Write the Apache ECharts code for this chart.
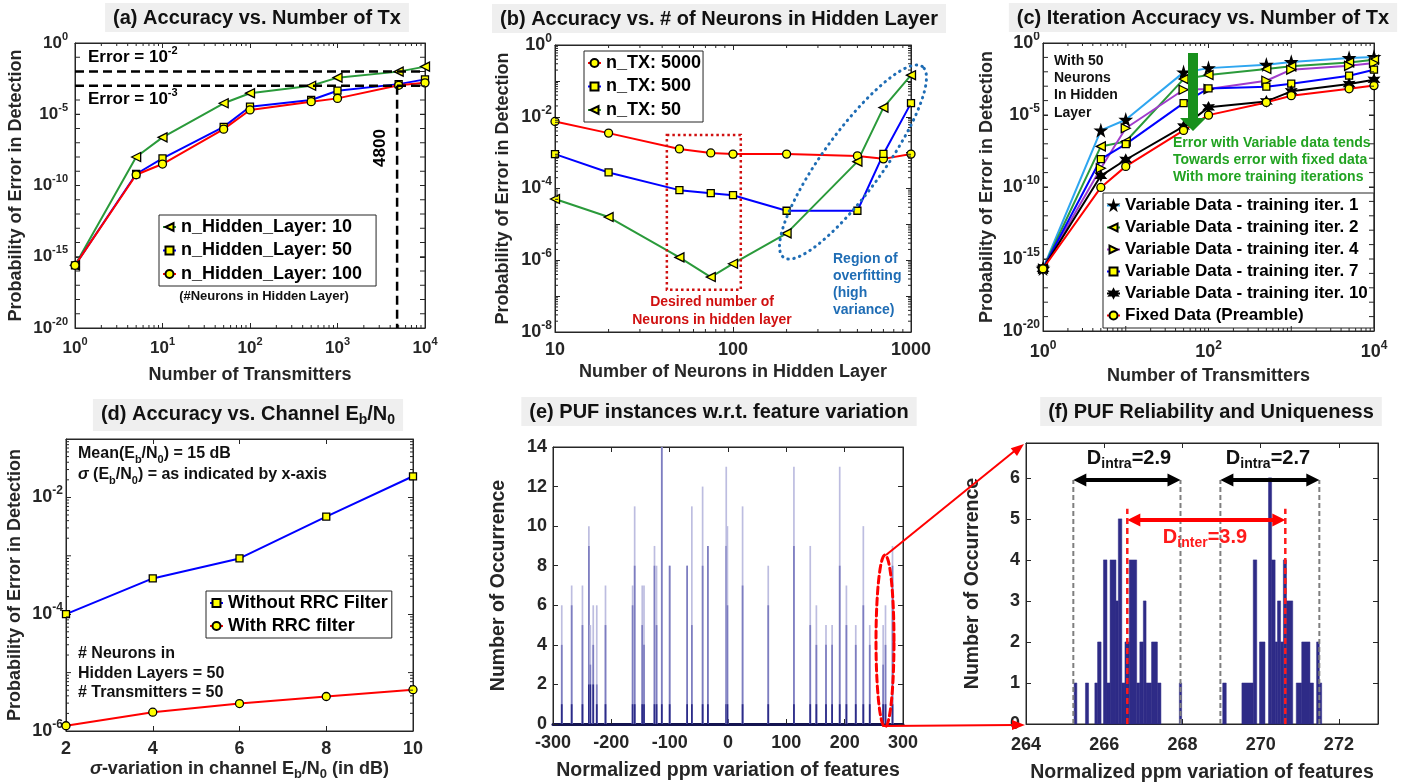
<!DOCTYPE html>
<html>
<head>
<meta charset="utf-8">
<script src="https://cdn.jsdelivr.net/npm/echarts@6.0.0/dist/echarts.min.js"></script>
<style>
html,body{margin:0;padding:0;background:#ffffff;}
#chart{width:1401px;height:783px;}
</style>
</head>
<body>
<div id="chart"></div>
<script>
// ---------------- data ----------------
// (a) accuracy vs number of transmitters
const txCounts = [1, 5, 10, 50, 100, 500, 1000, 5000, 10000];
const errHidden10  = [2.5e-16, 1.0e-8, 2.4e-7, 5.9e-5, 3.0e-4, 1.0e-3, 3.7e-3, 9.8e-3, 2.2e-2];
const errHidden50  = [2.5e-16, 6.4e-10, 8.0e-9, 1.3e-6, 3.4e-5, 1.0e-4, 4.5e-4, 1.3e-3, 2.8e-3];
const errHidden100 = [2.5e-16, 5.7e-10, 3.2e-9, 9.0e-7, 2.0e-5, 7.6e-5, 1.3e-4, 1.07e-3, 1.6e-3];
const legendA = ['n_Hidden_Layer: 10', 'n_Hidden_Layer: 50', 'n_Hidden_Layer: 100'];

// (b) accuracy vs neurons in hidden layer
const neuronCounts = [10, 20, 50, 75, 100, 200, 500, 700, 1000];
const errTx5000 = [7.4e-3, 3.5e-3, 1.27e-3, 9.8e-4, 9.1e-4, 9.1e-4, 8.1e-4, 6.7e-4, 9.1e-4];
const errTx500  = [9.1e-4, 2.8e-4, 9.0e-5, 7.4e-5, 6.5e-5, 2.4e-5, 2.4e-5, 9.2e-4, 2.4e-2];
const errTx50   = [5.1e-5, 1.6e-5, 1.2e-6, 3.4e-7, 8.0e-7, 5.6e-6, 5.6e-4, 1.8e-2, 1.44e-1];
const legendB = ['n_TX: 5000', 'n_TX: 500', 'n_TX: 50'];

// (c) iteration accuracy vs number of transmitters (x = txCounts)
const errIter1  = [2.1e-16, 8.5e-7, 4.7e-6, 9.1e-3, 1.8e-2, 3.1e-2, 4.8e-2, 9.1e-2, 1.07e-1];
const errIter2  = [2.1e-16, 6.6e-8, 1.45e-7, 3.1e-3, 6.0e-3, 1.55e-2, 2.4e-2, 4.5e-2, 6.9e-2];
const errIter4  = [2.1e-16, 2.0e-9, 1.2e-6, 5.7e-4, 6.3e-4, 2.4e-3, 1.4e-2, 2.6e-2, 4.1e-2];
const errIter7  = [2.1e-16, 8.7e-9, 9.5e-8, 6.7e-5, 7.0e-4, 9.2e-4, 1.5e-3, 5.4e-3, 1.4e-2];
const errIter10 = [2.1e-16, 6.0e-10, 7.8e-9, 1.6e-6, 3.4e-5, 8.8e-5, 4.4e-4, 1.4e-3, 2.8e-3];
const errFixed  = [2.1e-16, 9.3e-11, 2.7e-9, 8.5e-7, 9.8e-6, 7.5e-5, 2.2e-4, 6.6e-4, 1.1e-3];
const legendC = ['Variable Data - training iter. 1', 'Variable Data - training iter. 2',
  'Variable Data - training iter. 4', 'Variable Data - training iter. 7',
  'Variable Data - training iter. 10', 'Fixed Data (Preamble)'];

// (d) accuracy vs channel Eb/N0 variation
const sigmaDb  = [2, 4, 6, 8, 10];
const errNoRrc = [1.0e-4, 4.1e-4, 9.0e-4, 4.7e-3, 2.3e-2];
const errRrc   = [1.23e-6, 2.1e-6, 2.95e-6, 3.9e-6, 5.1e-6];
const legendD = ['Without RRC Filter', 'With RRC filter'];

// (e) PUF instances: spike position (ppm), total count, mid-shade count, dark core count
const spikePpm   = [-285, -268, -249.5, -238.5, -236, -231, -225, -210, -163.5, -160, -147, -144, -126, -122.5, -113.5, -100, -70, -62, -43.5, -34.5, -3, -1, 25, 69, 113, 141, 151.5, 168, 178.5, 191.5, 203, 219, 232, 243, 266, 270, 282];
const spikeTotal = [6, 7, 7, 10, 5, 6, 6, 7, 7, 11, 7, 7, 9, 8, 14, 8, 8, 11, 12, 9, 13, 10, 11, 8, 13, 9, 6, 5, 5, 13, 7, 5, 10, 5, 5, 6, 9];
const spikeMid   = [4, 6, 5, 9, 3, 4, 2, 5, 6, 8, 5, 4, 8, 5, 14, 8, 8, 5, 8, 9, 9, 6, 7, 6, 9, 5, 4, 4, 4, 8, 5, 4, 6, 4, 3, 4, 8];
const spikeCore  = [1, 1, 1, 2, 2, 2, 1, 1, 1, 1, 1, 1, 1, 1, 1, 1, 1, 1, 1, 1, 1, 1, 1, 1, 1, 1, 1, 1, 1, 1, 1, 1, 1, 1, 1, 1, 1];

// (f) PUF reliability histogram bins
const pufBinStart = [265.23, 265.52, 265.76, 265.83, 265.98, 266.07, 266.15, 266.30, 266.36, 266.45, 266.53, 266.64, 266.83, 266.91, 267.00, 267.07, 267.21, 267.36, 267.92,
                     269.03, 269.52, 269.81, 269.97, 270.20, 270.28, 270.37, 270.43, 270.51, 270.58, 270.66, 270.91, 271.05, 271.26, 271.43, 271.50];
const pufBinEnd   = [265.30, 265.60, 265.83, 265.92, 266.07, 266.15, 266.30, 266.36, 266.45, 266.53, 266.64, 266.83, 266.91, 267.00, 267.07, 267.21, 267.36, 267.45, 267.98,
                     269.12, 269.81, 269.90, 270.11, 270.28, 270.37, 270.43, 270.51, 270.58, 270.66, 270.82, 271.05, 271.26, 271.35, 271.50, 271.56];
const pufBinCount = [1, 1, 1, 2, 4, 1, 4, 3, 5, 1, 2, 4, 1, 2, 3, 1, 2, 1, 1,
                     1, 1, 4, 2, 6, 4, 2, 3, 2, 4, 3, 1, 2, 1, 2, 1];
const intraLimits = [265.21, 267.95, 268.97, 271.5];
const clusterCenters = [266.59, 270.63];

// ---------------- layout / style ----------------
const FONT = '"Liberation Sans", Arial, Helvetica, sans-serif';
const INK = '#262626';
const GRID = [
  {l: 75,   t: 43,  r: 425,  b: 328},
  {l: 555,  t: 45,  r: 911,  b: 332},
  {l: 1043, t: 43,  r: 1374, b: 331},
  {l: 66,   t: 439, r: 413,  b: 731},
  {l: 553,  t: 447, r: 903,  b: 724},
  {l: 1026, t: 443, r: 1378, b: 724}
];
const YELLOW = '#ffff00';
const GREEN = '#2a9a3a', RED = '#ff0000', BLUE = '#0000ff', LBLUE = '#2ea6f0', PURPLE = '#a03ccc';
const STAR5 = 'path://M50,0 L61,35 L98,35 L68,57 L79,91 L50,70 L21,91 L32,57 L2,35 L39,35 Z';
const STAR6 = 'path://M50,0 L62,28 L93,25 L75,50 L93,75 L62,72 L50,100 L38,72 L7,75 L25,50 L7,25 L38,28 Z';

function supRich(base, sup) {
  return {
    b: {fontFamily: FONT, fontWeight: 'bold', fontSize: base, lineHeight: base + 7, color: INK, verticalAlign: 'middle'},
    s: {fontFamily: FONT, fontWeight: 'bold', fontSize: sup, lineHeight: sup, color: INK, verticalAlign: 'top'}
  };
}
function powFmt(show) {
  return function (v) {
    const e = Math.round(Math.log10(v));
    return show.indexOf(e) >= 0 ? '{b|10}{s|' + e + '}' : '';
  };
}
function subRich(base, sub, color) {
  return {
    t: {fontFamily: FONT, fontWeight: 'bold', fontSize: base, lineHeight: base + 6, color: color, verticalAlign: 'middle'},
    u: {fontFamily: FONT, fontWeight: 'bold', fontSize: sub, lineHeight: sub, color: color, verticalAlign: 'bottom'},
    i: {fontFamily: FONT, fontWeight: 'bold', fontStyle: 'italic', fontSize: base, lineHeight: base + 6, color: color, verticalAlign: 'middle'}
  };
}

const xAxes = [], yAxes = [];
function addAxes(list, dim, g, base, label, name) {
  const common = Object.assign({gridIndex: g, splitLine: {show: false}, minorTick: {show: false},
    axisLine: {show: true, onZero: false, lineStyle: {color: INK, width: 1}},
    axisTick: {show: true, inside: true, length: 5, lineStyle: {color: INK, width: 1}},
    axisPointer: {show: false}}, base);
  const primary = Object.assign({}, common, {
    position: dim === 'x' ? 'bottom' : 'left',
    axisLabel: Object.assign({show: true, color: INK, fontFamily: FONT, fontWeight: 'bold', fontSize: 18}, label)
  }, name || {});
  const secondary = Object.assign({}, common, {
    position: dim === 'x' ? 'top' : 'right',
    axisLabel: {show: false}
  });
  list.push(primary, secondary);
}
function axName(text, gap, size, rich) {
  return {name: text, nameLocation: 'middle', nameGap: gap,
    nameTextStyle: {fontFamily: FONT, fontWeight: 'bold', fontSize: size, color: INK, rich: rich}};
}

// (a)
addAxes(xAxes, 'x', 0, {type: 'log', logBase: 10, min: 1, max: 10000},
  {formatter: powFmt([0, 1, 2, 3, 4]), rich: supRich(17, 11), margin: 8}, axName('Number of Transmitters', 38, 18));
addAxes(yAxes, 'y', 0, {type: 'log', logBase: 100000, min: 1e-20, max: 1},
  {formatter: powFmt([0, -5, -10, -15, -20]), rich: supRich(17, 11), margin: 7}, axName('Probability of Error in Detection', 50, 18));
// (b)
addAxes(xAxes, 'x', 1, {type: 'log', logBase: 10, min: 10, max: 1000},
  {formatter: function (v) { return String(Math.round(v)); }, fontSize: 18, margin: 9}, axName('Number of Neurons in Hidden Layer', 31, 18));
addAxes(yAxes, 'y', 1, {type: 'log', logBase: 10, min: 1e-8, max: 1},
  {formatter: powFmt([0, -2, -4, -6, -8]), rich: supRich(18, 12), margin: 3}, axName('Probability of Error in Detection', 43, 18));
// (c)
addAxes(xAxes, 'x', 2, {type: 'log', logBase: 100, min: 1, max: 10000},
  {formatter: powFmt([0, 2, 4]), rich: supRich(18, 12), margin: 9}, axName('Number of Transmitters', 36, 18));
addAxes(yAxes, 'y', 2, {type: 'log', logBase: 100000, min: 1e-20, max: 1},
  {formatter: powFmt([0, -5, -10, -15, -20]), rich: supRich(18, 12), margin: 3}, axName('Probability of Error in Detection', 47, 18));
// (d)
addAxes(xAxes, 'x', 3, {type: 'value', min: 2, max: 10, interval: 2},
  {fontSize: 18, margin: 9},
  axName('{i|σ}{t|-variation in channel E}{u|b}{t|/N}{u|0}{t| (in dB)}', 26, 18, subRich(18, 13, INK)));
addAxes(yAxes, 'y', 3, {type: 'log', logBase: 100, min: 1e-6, max: 1e-1},
  {formatter: powFmt([-2, -4, -6]), rich: supRich(18, 12), margin: 3}, axName('Probability of Error in Detection', 42, 18));
// (e)
addAxes(xAxes, 'x', 4, {type: 'value', min: -300, max: 300, interval: 100},
  {fontSize: 18, margin: 10}, axName('Normalized ppm variation of features', 37, 19.5));
xAxes[8].axisLine = {show: true, onZero: false, lineStyle: {color: '#141450', width: 3}};
addAxes(yAxes, 'y', 4, {type: 'value', min: 0, max: 14, interval: 2},
  {fontSize: 18, margin: 6}, axName('Number of Occurrence', 44, 19.5));
// (f)
addAxes(xAxes, 'x', 5, {type: 'value', min: 264, max: 273, interval: 2},
  {fontSize: 18, margin: 12, showMaxLabel: false}, axName('Normalized ppm variation of features', 39, 19.5));
addAxes(yAxes, 'y', 5, {type: 'value', min: 0, max: 6.85, interval: 1},
  {fontSize: 18, margin: 6, showMaxLabel: false}, axName('Number of Occurrence', 43, 19.5));

const grids = GRID.map(function (g) {
  return {left: g.l, top: g.t, width: g.r - g.l, height: g.b - g.t, show: true,
    borderColor: INK, borderWidth: 1, backgroundColor: '#ffffff', containLabel: false, outerBoundsMode: 'none'};
});

function lineSeries(name, g, xs, ys, color, symbol, size, rot, fill) {
  return {
    type: 'line', name: name, xAxisIndex: 2 * g, yAxisIndex: 2 * g,
    data: xs.map(function (x, i) { return [x, ys[i]]; }),
    symbol: symbol, symbolSize: size, symbolRotate: rot || 0, showAllSymbol: true,
    lineStyle: {color: color, width: 2},
    itemStyle: {color: fill || YELLOW, borderColor: '#000000', borderWidth: 1.3},
    emphasis: {disabled: true}, silent: true, z: 3
  };
}

const series = [
  lineSeries(legendA[0], 0, txCounts, errHidden10, GREEN, 'triangle', 9, 90),
  lineSeries(legendA[1], 0, txCounts, errHidden50, BLUE, 'rect', 7),
  lineSeries(legendA[2], 0, txCounts, errHidden100, RED, 'circle', 8),

  lineSeries(legendB[0], 1, neuronCounts, errTx5000, RED, 'circle', 8),
  lineSeries(legendB[1], 1, neuronCounts, errTx500, BLUE, 'rect', 7),
  lineSeries(legendB[2], 1, neuronCounts, errTx50, GREEN, 'triangle', 9, 90),

  lineSeries(legendC[0], 2, txCounts, errIter1, LBLUE, STAR5, 11, 0, '#000000'),
  lineSeries(legendC[1], 2, txCounts, errIter2, GREEN, 'triangle', 9, 90),
  lineSeries(legendC[2], 2, txCounts, errIter4, PURPLE, 'triangle', 9, -90),
  lineSeries(legendC[3], 2, txCounts, errIter7, BLUE, 'rect', 7),
  lineSeries(legendC[4], 2, txCounts, errIter10, '#000000', STAR6, 10, 0, '#000000'),
  lineSeries(legendC[5], 2, txCounts, errFixed, RED, 'circle', 8),

  lineSeries(legendD[0], 3, sigmaDb, errNoRrc, BLUE, 'rect', 7),
  lineSeries(legendD[1], 3, sigmaDb, errRrc, RED, 'circle', 8),

  {
    type: 'custom', name: 'spikes', xAxisIndex: 8, yAxisIndex: 8, silent: true,
    data: spikePpm.map(function (x, i) { return [x, spikeTotal[i], spikeMid[i], spikeCore[i]]; }),
    encode: {x: 0, y: 1},
    renderItem: function (params, api) {
      const x = api.value(0);
      const base = api.coord([x, 0]);
      const w = 1.7;
      function mk(h, fill) {
        const top = api.coord([x, h]);
        return {type: 'rect', shape: {x: base[0] - w / 2, y: top[1], width: w, height: base[1] - top[1]}, style: {fill: fill}};
      }
      return {type: 'group', children: [mk(api.value(1), '#bdbde0'), mk(api.value(2), '#7d7dc0'), mk(api.value(3), '#2c2c88')]};
    }
  },
  {
    type: 'custom', name: 'pufBins', xAxisIndex: 10, yAxisIndex: 10, silent: true,
    data: pufBinStart.map(function (s, i) { return [s, pufBinEnd[i], pufBinCount[i]]; }),
    encode: {x: [0, 1], y: 2},
    renderItem: function (params, api) {
      const p0 = api.coord([api.value(0), api.value(2)]);
      const p1 = api.coord([api.value(1), 0]);
      return {type: 'rect', shape: {x: p0[0], y: p0[1], width: p1[0] - p0[0], height: p1[1] - p0[1]},
        style: {fill: '#2e2b87', stroke: '#2e2b87', lineWidth: 0.5}};
    }
  }
];

function legendBox(names, left, top, fontSize, gap, padding) {
  return {
    data: names, orient: 'vertical', left: left, top: top, itemGap: gap, itemWidth: 13, itemHeight: 10,
    padding: padding, selectedMode: false, borderColor: INK, borderWidth: 1, backgroundColor: '#ffffff',
    textStyle: {fontFamily: FONT, fontWeight: 'bold', fontSize: fontSize, color: '#000000'}
  };
}
const legends = [
  legendBox(legendA, 159, 215, 18, 5.5, [3, 14, 3, 3]),
  legendBox(legendB, 584, 51, 18, 5.5, [3, 2, 3, 3]),
  legendBox(legendC, 1103, 193, 17, 5, [4, 6, 4, 3]),
  legendBox(legendD, 206, 591, 18, 5, [3, 4, 3, 3])
];

function titleBox(text, cx, top, rich) {
  return {text: text, left: cx, top: top, textAlign: 'center', backgroundColor: '#efefef', padding: [5, 8, 4, 8],
    textStyle: {fontFamily: FONT, fontWeight: 'bold', fontSize: 20, color: '#111111', rich: rich}};
}
const titles = [
  titleBox('(a) Accuracy vs. Number of Tx', 249, 3),
  titleBox('(b) Accuracy vs. # of Neurons in Hidden Layer', 711, 4),
  titleBox('(c) Iteration Accuracy vs. Number of Tx', 1195, 3),
  titleBox('{t|(d) Accuracy vs. Channel E}{u|b}{t|/N}{u|0}', 240, 396, subRich(20, 14, '#111111')),
  titleBox('(e) PUF instances w.r.t. feature variation', 711, 397),
  titleBox('(f) PUF Reliability and Uniqueness', 1203, 397)
];

const chart = echarts.init(document.getElementById('chart'), null, {renderer: 'canvas', width: 1401, height: 783});
chart.setOption({
  animation: false, backgroundColor: '#ffffff', textStyle: {fontFamily: FONT},
  title: titles, grid: grids, xAxis: xAxes, yAxis: yAxes, legend: legends, series: series
});

// ---------------- annotations ----------------
function buildGraphics() {
  const els = [];
  const X = function (g, v) { return chart.convertToPixel({xAxisIndex: 2 * g}, v); };
  const Y = function (g, v) { return chart.convertToPixel({yAxisIndex: 2 * g}, v); };
  function line(x1, y1, x2, y2, stroke, w, dash) {
    return {type: 'line', silent: true, z: 60, shape: {x1: x1, y1: y1, x2: x2, y2: y2},
      style: {stroke: stroke, lineWidth: w, lineDash: dash || null, fill: null}};
  }
  function poly(points, fill) {
    return {type: 'polygon', silent: true, z: 60, shape: {points: points}, style: {fill: fill}};
  }
  function head(tx, ty, fx, fy, len, half, fill) {
    const dx = tx - fx, dy = ty - fy, d = Math.sqrt(dx * dx + dy * dy);
    const ux = dx / d, uy = dy / d, bx = tx - ux * len, by = ty - uy * len;
    return poly([[tx, ty], [bx - uy * half, by + ux * half], [bx + uy * half, by - ux * half]], fill);
  }
  function ellipse(cx, cy, rx, ry, rotDeg, stroke, w, dash) {
    const pts = [], th = rotDeg * Math.PI / 180;
    for (let a = 0; a < 360; a += 3) {
      const t = a * Math.PI / 180, ex = rx * Math.cos(t), ey = ry * Math.sin(t);
      pts.push([cx + ex * Math.cos(th) - ey * Math.sin(th), cy - (ex * Math.sin(th) + ey * Math.cos(th))]);
    }
    return {type: 'polygon', silent: true, z: 60, shape: {points: pts},
      style: {fill: null, stroke: stroke, lineWidth: w, lineDash: dash, lineCap: 'round'}};
  }
  function text(x, y, str, size, color, align, rich, extra) {
    return Object.assign({type: 'text', silent: true, z: 70, x: x, y: y,
      style: {text: str, fontFamily: FONT, fontWeight: 'bold', fontSize: size, fill: color,
        align: align || 'left', verticalAlign: 'middle', rich: rich, lineHeight: extra && extra.lh}}, extra && extra.el);
  }
  function tickX(g, v, len) {
    const x = X(g, v), G = GRID[g];
    els.push(line(x, G.b, x, G.b - len, INK, 1), line(x, G.t, x, G.t + len, INK, 1));
  }
  function tickY(g, v, len) {
    const y = Y(g, v), G = GRID[g];
    els.push(line(G.l, y, G.l + len, y, INK, 1), line(G.r, y, G.r - len, y, INK, 1));
  }
  const mult = [2, 3, 4, 5, 6, 7, 8, 9];
  // log minor / decade ticks
  for (let n = 0; n < 4; n++) mult.forEach(function (k) { tickX(0, k * Math.pow(10, n), 3); tickX(2, k * Math.pow(10, n), 3); });
  for (let n = -19; n < 0; n++) { tickY(0, Math.pow(10, n), 5); tickY(2, Math.pow(10, n), 5); }
  [10, 1000].forEach(function (v) { tickX(2, v, 5); });
  for (let n = 1; n < 3; n++) mult.forEach(function (k) { tickX(1, k * Math.pow(10, n), 3); });
  for (let n = -8; n < 0; n++) mult.forEach(function (k) { tickY(1, k * Math.pow(10, n), 3); });
  for (let n = -6; n < -1; n++) mult.forEach(function (k) { tickY(3, k * Math.pow(10, n), 3); });
  [1e-5, 1e-3].forEach(function (v) { tickY(3, v, 5); });

  // (a) error thresholds
  const rich17 = supRich(17, 11);
  els.push(line(X(0, 1), Y(0, 1e-2), X(0, 10000), Y(0, 1e-2), '#000', 2.5, [9, 5]));
  els.push(line(X(0, 1), Y(0, 1e-3), X(0, 10000), Y(0, 1e-3), '#000', 2.5, [9, 5]));
  els.push(line(X(0, 4800), Y(0, 1e-3), X(0, 4800), Y(0, 1e-20), '#000', 2.5, [9, 5]));
  els.push(text(88, 57, '{b|Error = 10}{s|-2}', 17, '#000', 'left', rich17));
  els.push(text(88, 99, '{b|Error = 10}{s|-3}', 17, '#000', 'left', rich17));
  els.push(text(380, 148, '4800', 17, '#000', 'center', null, {el: {rotation: Math.PI / 2}}));
  els.push(text(264, 296, '(#Neurons in Hidden Layer)', 13, '#111', 'center'));

  // (b) annotations
  const rx0 = X(1, 42.5), rx1 = X(1, 110.6), ry0 = Y(1, 3.1e-3), ry1 = Y(1, 1.5e-7);
  els.push({type: 'rect', silent: true, z: 60, shape: {x: rx0, y: ry0, width: rx1 - rx0, height: ry1 - ry0},
    style: {fill: null, stroke: '#d01010', lineWidth: 2.5, lineDash: [2.5, 3]}});
  els.push(ellipse(853, 162, 118, 30, 54, '#1f6db5', 3, [0.5, 5.5]));
  els.push(text(712, 302, 'Desired number of', 14, '#d01010', 'center'));
  els.push(text(712, 320, 'Neurons in hidden layer', 14, '#d01010', 'center'));
  ['Region of', 'overfitting', '(high', 'variance)'].forEach(function (s, i) {
    els.push(text(833, 259 + i * 17, s, 14, '#1f6db5', 'left'));
  });

  // (c) annotations
  ['With 50', 'Neurons', 'In Hidden', 'Layer'].forEach(function (s, i) {
    els.push(text(1054, 61 + i * 17.3, s, 14, '#111', 'left'));
  });
  els.push(poly([[1188, 53], [1198, 53], [1198, 118], [1206, 118], [1193, 131], [1180, 118], [1188, 118]], '#18901c'));
  ['Error with Variable data tends', 'Towards error with fixed data', 'With more training iterations'].forEach(function (s, i) {
    els.push(text(1173, 143 + i * 17, s, 14, '#22a322', 'left'));
  });

  // (d) annotations
  const richD = subRich(16, 11, '#111');
  els.push(text(78, 454, '{t|Mean(E}{u|b}{t|/N}{u|0}{t|) = 15 dB}', 16, '#111', 'left', richD));
  els.push(text(78, 475, '{i|σ}{t| (E}{u|b}{t|/N}{u|0}{t|) = as indicated by x-axis}', 16, '#111', 'left', richD));
  ['# Neurons in', 'Hidden Layers = 50', '# Transmitters = 50'].forEach(function (s, i) {
    els.push(text(78, 654 + i * 19.5, s, 16, '#111', 'left'));
  });

  // (e) -> (f) zoom callout
  els.push(ellipse(885, 641, 9, 86, 0, '#ff0000', 3, [7, 4]));
  els.push(line(886, 555, 1017, 449, '#ff0000', 2));
  els.push(head(1024, 444, 886, 555, 13, 5, '#ff0000'));
  els.push(line(884, 726, 1015, 725, '#ff0000', 2));
  els.push(head(1025, 725, 884, 725, 13, 5, '#ff0000'));

  // (f) annotations
  intraLimits.forEach(function (v) {
    els.push(line(X(5, v), Y(5, 0), X(5, v), Y(5, 5.95), '#7f7f7f', 2, [5, 3]));
  });
  clusterCenters.forEach(function (v) {
    els.push(line(X(5, v), Y(5, 0), X(5, v), Y(5, 5.25), '#ff1a1a', 2.5, [6, 4]));
  });
  function dblArrow(v0, v1, h, color) {
    const x0 = X(5, v0), x1 = X(5, v1), y = Y(5, h);
    els.push(line(x0 + 10, y, x1 - 10, y, color, 4));
    els.push(head(x0, y, x1, y, 13, 6.5, color), head(x1, y, x0, y, 13, 6.5, color));
  }
  dblArrow(intraLimits[0], intraLimits[1], 5.95, '#000');
  dblArrow(intraLimits[2], intraLimits[3], 5.95, '#000');
  dblArrow(clusterCenters[0], clusterCenters[1], 4.97, '#ff0000');
  const richF = subRich(20, 14, '#111');
  const richFr = subRich(20, 14, '#ff1a1a');
  els.push(text(1129, 458, '{t|D}{u|intra}{t|=2.9}', 20, '#111', 'center', richF));
  els.push(text(1268, 458, '{t|D}{u|intra}{t|=2.7}', 20, '#111', 'center', richF));
  els.push(text(1205, 537, '{t|D}{u|inter}{t|=3.9}', 20, '#ff1a1a', 'center', richFr));
  return els;
}
chart.setOption({graphic: {elements: buildGraphics()}});
</script>
</body>
</html>
